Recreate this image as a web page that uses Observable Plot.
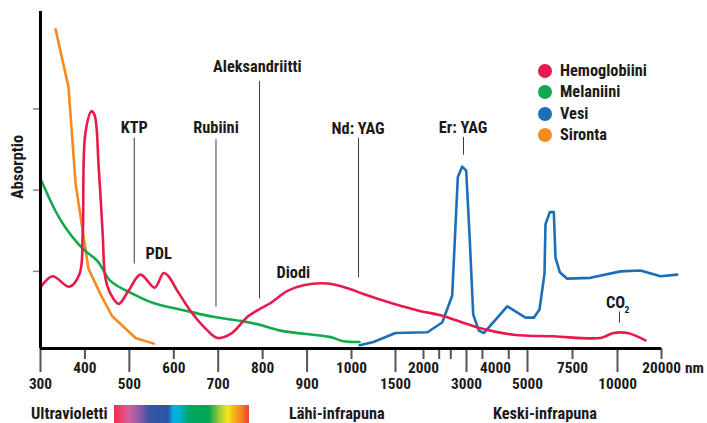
<!DOCTYPE html>
<html><head><meta charset="utf-8">
<script src="https://cdn.jsdelivr.net/npm/d3@7"></script>
<script src="https://cdn.jsdelivr.net/npm/@observablehq/plot@0.6"></script>
<style>
html,body{margin:0;padding:0;background:#fff;}
#wrap{position:relative;width:707px;height:423px;overflow:hidden;font-weight:700;color:#1a1a1a;}
#wrap svg{position:absolute;left:0;top:0;}
.ov{position:absolute;white-space:nowrap;line-height:17px;}
.li{position:absolute;left:538px;height:17px;display:flex;align-items:center;line-height:17px;white-space:nowrap;}
.sw{width:14px;height:14px;border-radius:50%;margin-right:8px;flex:none;}
#ylab{position:absolute;left:17px;top:167px;transform:translate(-50%,-50%) rotate(-90deg);white-space:nowrap;}
#spectrum{position:absolute;left:114px;top:405px;width:135px;height:18px;
background:linear-gradient(to right,#ea3050 0%,#ec3f6a 5%,#d262a0 11%,#8a5aa8 19%,#3a55a4 26%,#2a56a4 40%,#00b2e3 44%,#00b0d8 48%,#00a660 56%,#00a650 70%,#8cc63f 77%,#f4e71c 84%,#f7a81d 90%,#f47c22 95%,#ed3e3b 100%);}
</style></head>
<body><div id="wrap"></div>
<script>
// ---- axis definitions (nm) ----
const xStops = [300, 1000, 1500, 2000, 3000, 4000, 5000, 7500, 10000, 20000];
const upperTickLabels = [400, 600, 800, 1000, 2000, 4000, 7500, 20000];
const lowerTickLabels = [300, 500, 700, 900, 1500, 3000, 5000, 10000];
const shortTicks = [400, 600, 800, 1000, 2000, 2365, 2635, 3550, 4415, 7500, 20000];
const longTicks = [300, 500, 700, 900, 1500, 3000, 5000, 10000];
const yTicks = [1, 2, 3];
const yDomain = [0.05, 4.2];

// ---- series (wavelength nm, relative absorption) ----
const seriesNames = ["Hemoglobiini", "Melaniini", "Vesi", "Sironta"];

const hemoNm  = [300, 327, 365, 388, 395, 401, 415, 422, 431, 440, 446, 458, 476, 498, 525, 557, 577, 588, 608, 642, 676, 698, 728, 768, 795, 818, 856, 892, 946, 998, 1136, 1477, 1946, 2395, 3379, 4563, 6444, 9056, 9778, 12270, 16360];
const hemoAbs = [0.80, 0.94, 0.81, 0.97, 1.46, 2.70, 2.97, 2.92, 2.28, 1.46, 0.92, 0.72, 0.60, 0.76, 0.96, 0.80, 0.98, 0.94, 0.76, 0.48, 0.27, 0.18, 0.23, 0.45, 0.54, 0.61, 0.76, 0.83, 0.85, 0.78, 0.72, 0.60, 0.51, 0.46, 0.31, 0.22, 0.20, 0.18, 0.24, 0.24, 0.15];

const melNm  = [300, 334, 356, 383, 401, 428, 458, 509, 554, 631, 689, 750, 788, 840, 953, 982, 1091];
const melAbs = [2.14, 1.74, 1.54, 1.35, 1.25, 1.13, 0.88, 0.72, 0.61, 0.51, 0.44, 0.39, 0.35, 0.27, 0.19, 0.14, 0.13];

const watNm  = [1091, 1250, 1500, 2093, 2435, 2667, 2798, 2900, 2993, 3114, 3231, 3424, 3597, 4366, 4938, 5350, 5667, 5944, 6000, 6239, 6461, 6556, 6794, 7206, 8500, 10680, 15230, 19770, 23570];
const watAbs = [0.09, 0.13, 0.24, 0.25, 0.37, 0.70, 2.16, 2.29, 2.24, 1.38, 0.47, 0.27, 0.24, 0.57, 0.43, 0.43, 0.53, 0.97, 1.58, 1.73, 1.73, 1.17, 0.99, 0.91, 0.92, 1.00, 1.01, 0.94, 0.96];

const scaNm  = [334, 363, 379, 408, 435, 461, 514, 555];
const scaAbs = [3.98, 3.27, 2.08, 1.03, 0.72, 0.45, 0.18, 0.11];

// ---- laser annotations ----
const laserNames = ["KTP", "Rubiini", "Aleksandriitti", "Nd: YAG", "Er: YAG"];
const laserLabelNm = [511, 695, 788, 1075, 2920];
const laserLabelY = [2.77, 2.77, 3.52, 2.76, 2.77];
const laserLineNm = [511, 695, 793, 1080, 2930];
const laserLineTop = [2.64, 2.62, 3.34, 2.64, 2.65];
const laserLineBottom = [1.09, 0.56, 0.66, 0.92, 2.43];

const otherNames = ["PDL", "Diodi"];
const otherNm = [566, 869];
const otherY = [1.22, 0.98];

const co2Nm = [10450];
const co2LabelY = [0.61];
const co2LineTop = [0.50];
const co2LineBottom = [0.36];

const bandNames = ["Ultravioletti", "Lähi-infrapuna", "Keski-infrapuna"];

// ---- styles ----
const colors = {"Hemoglobiini": "#e8194b", "Melaniini": "#12a84e", "Vesi": "#1c6fb7", "Sironta": "#f58a20"};
const xRangePx = [40, 351, 395, 423, 466, 495, 527, 572, 617, 661];

// pick the narrowest available bold sans and size it to the reference text widths
function pickFont() {
  const c = document.createElement("canvas").getContext("2d");
  const cands = ["Roboto Condensed", "Liberation Sans Narrow", "Arial Narrow", "DejaVu Sans Condensed", "Roboto"];
  c.font = "bold 100px monospace";
  const base = c.measureText("Hemoglobiini").width;
  for (const f of cands) {
    c.font = `bold 100px "${f}", monospace`;
    const w = c.measureText("Hemoglobiini").width;
    if (Math.abs(w - base) > 0.5) {
      const d = c.measureText("2000").width;
      return {family: `"${f}", sans-serif`, text: 100 * 87 / w, digits: 100 * 31 / d};
    }
  }
  return {family: "sans-serif", text: 14, digits: 14};
}
const F = pickFont();
const fs = Math.min(17, F.text);
const fd = Math.min(16.5, F.digits);

// ---- build rows ----
const rows = [];
const sets = {"Hemoglobiini": [hemoNm, hemoAbs], "Melaniini": [melNm, melAbs], "Vesi": [watNm, watAbs], "Sironta": [scaNm, scaAbs]};
for (const name of seriesNames) {
  const [xs, ys] = sets[name];
  xs.forEach((x, i) => rows.push({series: name, nm: x, abs: ys[i]}));
}
const lasers = laserNames.map((n, i) => ({name: n, lx: laserLabelNm[i], ly: laserLabelY[i], x: laserLineNm[i], y1: laserLineTop[i], y2: laserLineBottom[i]}));
const others = otherNames.map((n, i) => ({name: n, x: otherNm[i], y: otherY[i]}));
const co2 = co2Nm.map((x, i) => ({x, y: co2LabelY[i], y1: co2LineTop[i], y2: co2LineBottom[i]}));

const drawOrder = ["Sironta", "Melaniini", "Vesi", "Hemoglobiini"];
const lineMarks = drawOrder.map(name => Plot.line(rows.filter(d => d.series === name), {
  x: "nm", y: "abs", stroke: colors[name], strokeWidth: 2.6,
  curve: (name === "Hemoglobiini" || name === "Melaniini") ? "catmull-rom" : "linear"
}));

const axisStyle = {stroke: "#555", strokeWidth: 2};

const chart = Plot.plot({
  width: 707, height: 423,
  marginLeft: 40, marginRight: 46, marginTop: 11, marginBottom: 75,
  style: {fontFamily: F.family, fontWeight: 700, color: "#1a1a1a", background: "transparent"},
  x: {type: "linear", domain: xStops, range: xRangePx, axis: null},
  y: {domain: yDomain, axis: null},
  marks: [
    Plot.axisY(yTicks, {anchor: "left", tickSize: 7, tickFormat: () => "", stroke: "#888", strokeWidth: 1.5}),
    Plot.axisX(shortTicks, {anchor: "bottom", tickSize: 11, tickFormat: () => "", ...axisStyle}),
    Plot.axisX(longTicks, {anchor: "bottom", tickSize: 24, tickFormat: () => "", ...axisStyle}),
    Plot.axisX(upperTickLabels, {anchor: "bottom", tickSize: 0, tickPadding: 14, fontSize: fd, tickFormat: d => String(d)}),
    Plot.axisX(lowerTickLabels, {anchor: "bottom", tickSize: 0, tickPadding: 30, fontSize: fd, tickFormat: d => String(d)}),
    Plot.ruleX(lasers, {x: "x", y1: "y1", y2: "y2", stroke: "#3a3a3a", strokeWidth: 1}),
    Plot.ruleX(co2, {x: "x", y1: "y1", y2: "y2", stroke: "#3a3a3a", strokeWidth: 1}),
    ...lineMarks,
    Plot.ruleX([xStops[0]], {stroke: "#000", strokeWidth: 3}),
    Plot.ruleY([yDomain[0]], {stroke: "#000", strokeWidth: 3}),
    Plot.text(lasers, {x: "lx", y: "ly", text: "name", fontSize: fs, fill: "#1a1a1a"}),
    Plot.text(others, {x: "x", y: "y", text: "name", fontSize: fs, fill: "#1a1a1a"}),
    Plot.text(co2, {x: "x", y: "y", text: () => "CO", dx: -4, fontSize: fs, fill: "#1a1a1a"}),
    Plot.text(co2, {x: "x", y: "y", text: () => "2", dx: 7.5, dy: 7, fontSize: fs * 0.6, fill: "#1a1a1a"})
  ]
});

const wrap = document.getElementById("wrap");
wrap.style.fontFamily = F.family;
wrap.style.fontSize = fs + "px";
wrap.appendChild(chart);

// y label
const yl = document.createElement("div");
yl.id = "ylab"; yl.textContent = "Absorptio";
wrap.appendChild(yl);

// "nm" unit
const nm = document.createElement("div");
nm.className = "ov"; nm.textContent = "nm";
nm.style.left = "685px"; nm.style.top = "360px"; nm.style.fontSize = fd + "px";
wrap.appendChild(nm);

// legend
const legendTops = [62, 83, 105, 126];
seriesNames.forEach((name, i) => {
  const it = document.createElement("div");
  it.className = "li"; it.style.top = legendTops[i] + "px";
  const sw = document.createElement("span");
  sw.className = "sw"; sw.style.background = colors[name];
  const t = document.createElement("span"); t.textContent = name;
  it.appendChild(sw); it.appendChild(t);
  wrap.appendChild(it);
});

// bottom band labels
const bandLeft = [31, 289, 493];
bandNames.forEach((b, i) => {
  const d = document.createElement("div");
  d.className = "ov"; d.textContent = b;
  d.style.left = bandLeft[i] + "px"; d.style.top = "405px";
  wrap.appendChild(d);
});
const sp = document.createElement("div"); sp.id = "spectrum";
wrap.appendChild(sp);
</script></body></html>
